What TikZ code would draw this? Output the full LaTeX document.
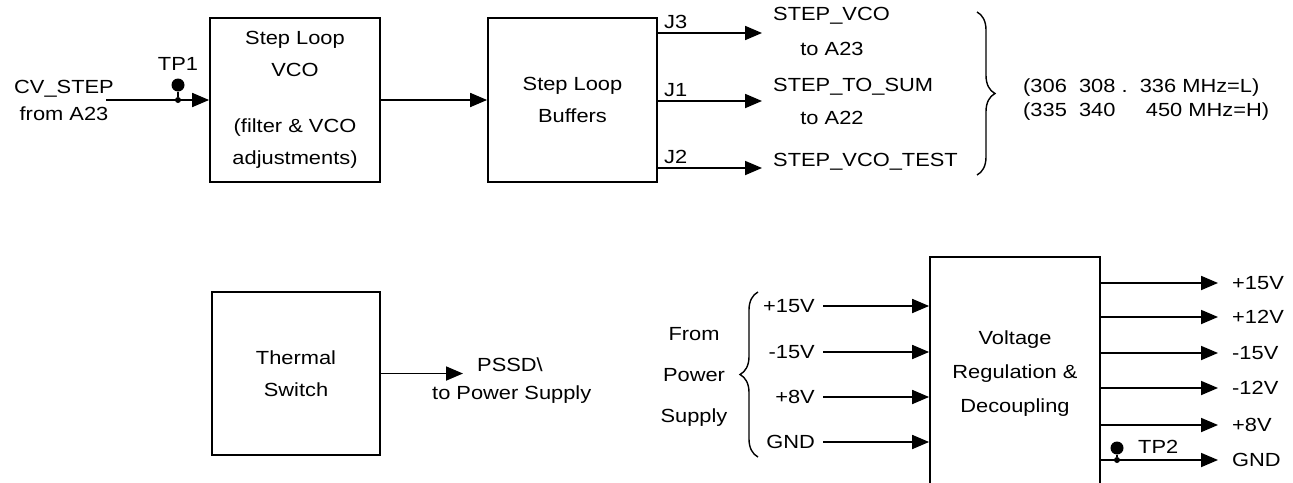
\documentclass[tikz,border=0pt]{standalone}
\usepackage{fontspec}
\setmainfont{Liberation Sans}[FakeStretch=1.15]
\usetikzlibrary{arrows.meta, positioning, decorations.pathreplacing}

\begin{document}
\begin{tikzpicture}[>={Triangle[length=17pt,width=14pt]}, x=1pt, y=-1pt,
      font=\fontsize{19}{32}\selectfont,
      blk/.style={draw, line width=1.8pt, align=center, inner sep=0pt},
      txt/.style={inner sep=0pt, align=center},
      ar/.style={->, line width=1.8pt},
      tpdot/.style={circle, fill, inner sep=0pt, minimum size=13pt},
      jdot/.style={circle, fill, inner sep=0pt, minimum size=6pt},
      brc/.style={decorate, decoration={brace, amplitude=18pt}, line width=1.4pt}]
    \clip (0,0) rectangle (1293,482);
    \node[blk, minimum width=170pt, minimum height=164pt] (vco) at (295,100)
      {Step Loop\\VCO\\[24pt](filter \& VCO\\adjustments)};
    \node[blk, minimum width=169pt, minimum height=164pt] (buf) at (572.5,100) {Step Loop\\Buffers};
    \node[blk, minimum width=168pt, minimum height=163pt] (therm) at (296,373.5) {Thermal\\Switch};
    \node[blk, minimum width=170pt, minimum height=233pt, font=\fontsize{19}{34}\selectfont]
      (vreg) at (1015,373.5) {Voltage\\Regulation \&\\Decoupling};
    \node[txt] (cv) at (64,100) {CV\_STEP\\[-5pt]from A23};
    \coordinate (cvin) at (106,100);
    \draw[ar] (cvin) -- (vco.west);
    \node[tpdot] (tp1) at (178,85) {};
    \node[jdot] (jn1) at (178,100) {};
    \draw[line width=1.6pt] (tp1) -- (jn1);
    \node[txt, above=8pt of tp1] (tp1l) {TP1};
    \draw[ar] (vco.east) -- (buf.west);
    \foreach \y/\j in {33/J3, 101/J1, 168/J2}{
      \coordinate (o\j) at (762,\y);
      \draw[ar] (buf.east |- o\j) -- (o\j);
      \node[txt, anchor=south west] (l\j) at (664,\y-4) {\j};}
    \node[txt, anchor=west] (svco) at (773,16) {STEP\_VCO};
    \node[txt] (svcoa) at (832,49) {to A23};
    \node[txt, anchor=west] (ssum) at (773,87) {STEP\_TO\_SUM};
    \node[txt] (ssuma) at (832,118) {to A22};
    \node[txt, anchor=west] (stest) at (773,162) {STEP\_VCO\_TEST};
    \draw[brc] (977,12) -- (977,175);
    \node[txt, anchor=west, align=left, font=\fontsize{19}{24}\selectfont] (freq) at (1023,100)
      {(306\ \ 308\ .\ \ 336 MHz=L)\\(335\ \ 340\ \ \ \ \ 450 MHz=H)};
    \coordinate (pssd) at (463,373.5);
    \draw[ar] (therm.east) -- (pssd);
    \node[txt, anchor=west] (pssdl) at (477,365) {PSSD\textbackslash};
    \node[txt, anchor=west] (pssdt) at (432,395) {to Power Supply};
    \node[txt, font=\fontsize{19}{41}\selectfont] (from) at (694,377) {From\\Power\\Supply};
    \draw[brc] (758,457) -- (758,292);
    \foreach \y/\v [count=\k] in {306/+15V, 352/-15V, 397/+8V, 442/GND}{
      \node[txt, anchor=east] (vin\k) at (815,\y) {\v};
      \draw[ar, shorten <=8pt] (vin\k) -- (vreg.west |- vin\k);}
    \foreach \y/\v [count=\k] in {283/+15V, 317/+12V, 353/-15V, 388/-12V, 425/+8V, 460/GND}{
      \node[txt, anchor=west] (vout\k) at (1232,\y) {\v};
      \draw[ar, shorten >=14pt] (vreg.east |- vout\k) -- (vout\k);}
    \node[tpdot] (tp2) at (1117,448) {};
    \node[jdot] (jn2) at (1117,460) {};
    \draw[line width=1.6pt] (tp2) -- (jn2);
    \node[txt, anchor=west] (tp2l) at (1138,447) {TP2};
  \end{tikzpicture}
\end{document}
